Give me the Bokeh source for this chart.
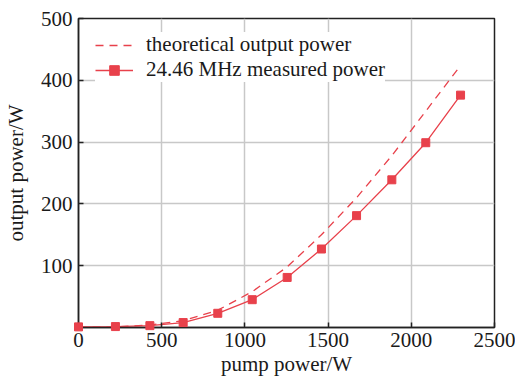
from bokeh.plotting import figure
from bokeh.models import FixedTicker, Legend, LegendItem, Range1d
from bokeh.embed import file_html
from bokeh.resources import INLINE

pump_power = [0, 222, 429, 629, 837, 1044, 1254, 1460, 1671, 1883, 2087, 2296]
theoretical = [0, 1, 4, 11, 28, 58, 98, 150, 210, 278, 350, 424]
measured = [1, 1.5, 3, 8, 23, 45, 81, 127, 181, 239, 299, 376]
x_ticks = [0, 500, 1000, 1500, 2000, 2500]
y_ticks = [100, 200, 300, 400, 500]

RED = "#e8414b"
FONT = "Liberation Serif"
TXT = "#1a1a1a"

p = figure(width=515, height=381, output_backend="svg", toolbar_location=None,
           x_range=Range1d(0, 2500), y_range=Range1d(0, 500),
           min_border_left=78, min_border_right=21, min_border_top=18, min_border_bottom=54)

p.outline_line_color = "#222222"
p.outline_line_width = 1.5

for ax in (p.xaxis[0], p.yaxis[0]):
    ax.axis_line_color = "#222222"
    ax.axis_line_width = 1.5
    ax.major_tick_line_color = "#222222"
    ax.major_tick_line_width = 1.5
    ax.major_tick_in = 5
    ax.major_tick_out = 0
    ax.minor_tick_line_color = None
    ax.major_label_text_font = FONT
    ax.major_label_text_font_size = "21px"
    ax.major_label_text_color = TXT
    ax.axis_label_text_font = FONT
    ax.axis_label_text_font_size = "21px"
    ax.axis_label_text_font_style = "normal"
    ax.axis_label_text_color = TXT

p.xaxis.ticker = FixedTicker(ticks=x_ticks)
p.yaxis.ticker = FixedTicker(ticks=y_ticks)
p.xaxis.axis_label = "pump power/W"
p.yaxis.axis_label = "output power/W"
p.xaxis.major_label_standoff = 5
p.xaxis.axis_label_standoff = 2
p.yaxis.major_label_standoff = 6
p.yaxis.axis_label_standoff = 10

p.xgrid.ticker = FixedTicker(ticks=[500, 1000, 1500, 2000])
p.ygrid.ticker = FixedTicker(ticks=[100, 200, 300, 400])
p.grid.grid_line_color = "#c8c8c8"
p.grid.grid_line_width = 1.5

r_theo = p.line(pump_power, theoretical, line_color=RED, line_width=1.3, line_dash="8 6")
r_line = p.line(pump_power, measured, line_color=RED, line_width=1.3)
r_pts = p.scatter(pump_power, measured, marker="square", size=8, fill_color=RED, line_color=RED)
r_pts.level = "overlay"

legend = Legend(items=[
    LegendItem(label="theoretical output power", renderers=[r_theo]),
    LegendItem(label="24.46 MHz measured power", renderers=[r_line, r_pts]),
], location=(17, 245))
legend.label_text_font = FONT
legend.label_text_font_size = "21px"
legend.label_text_color = TXT
legend.border_line_color = None
legend.background_fill_color = "white"
legend.background_fill_alpha = 1.0
legend.padding = 2
legend.spacing = 0
legend.margin = 0
legend.glyph_width = 38
legend.glyph_height = 24
legend.label_height = 24
legend.label_standoff = 13
p.add_layout(legend, "center")

open("out.html", "w").write(file_html(p, INLINE))
